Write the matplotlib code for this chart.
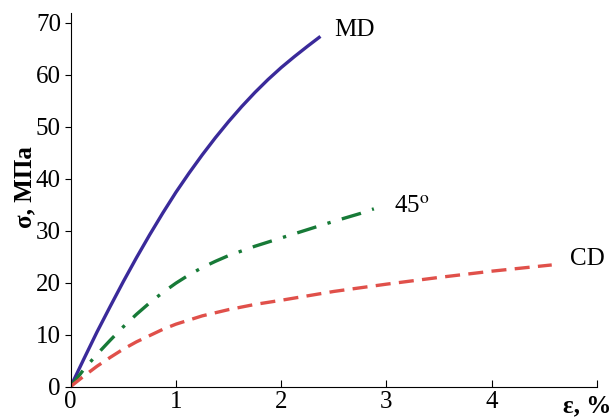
import matplotlib.pyplot as plt

# strain, %  /  stress, MPa
md_eps = [0, 0.125, 0.25, 0.375, 0.5, 0.625, 0.75, 0.875, 1.0, 1.125, 1.25,
          1.375, 1.5, 1.625, 1.75, 1.875, 2.0, 2.125, 2.25, 2.36]
md_sig = [0, 5.3, 10.5, 15.4, 20.2, 24.8, 29.2, 33.4, 37.4, 41.1, 44.6,
          47.9, 51.0, 53.9, 56.6, 59.1, 61.4, 63.5, 65.5, 67.2]

d45_eps = [0, 0.125, 0.25, 0.375, 0.5, 0.625, 0.75, 0.875, 1.0, 1.125, 1.25,
           1.375, 1.5, 1.75, 2.0, 2.25, 2.5, 2.75, 2.88]
d45_sig = [0, 3.3, 6.2, 8.9, 11.5, 13.9, 16.1, 18.1, 19.9, 21.5, 22.9,
           24.1, 25.2, 27.0, 28.6, 30.2, 31.8, 33.3, 34.2]

cd_eps = [0, 0.125, 0.25, 0.375, 0.5, 0.625, 0.75, 0.875, 1.0, 1.25, 1.5,
          1.75, 2.0, 2.5, 3.0, 3.5, 4.0, 4.57]
cd_sig = [0, 2.0, 3.9, 5.6, 7.2, 8.6, 9.8, 11.0, 12.0, 13.6, 14.8,
          15.8, 16.6, 18.3, 19.7, 21.0, 22.2, 23.4]

x_ticks = [0, 1, 2, 3, 4, 5]
x_labels = ['0', '1', '2', '3', '4', '']
y_ticks = [0, 10, 20, 30, 40, 50, 60, 70]

plt.rcParams['font.family'] = ['Liberation Serif', 'DejaVu Serif']
plt.rcParams['mathtext.fontset'] = 'stix'

fig = plt.figure(figsize=(6.12, 4.19), dpi=100)
ax = fig.add_axes([70.7 / 612, 1 - 386.5 / 419, (597 - 70.7) / 612, (386.5 - 13) / 419])

ax.plot(md_eps, md_sig, color='#3a2a9a', linewidth=2.4)
ax.plot(d45_eps, d45_sig, color='#177a37', linewidth=2.4,
        dashes=(6, 3.5, 1, 3.5))
ax.plot(cd_eps, cd_sig, color='#e0504a', linewidth=2.4, dashes=(4.5, 2.5))

ax.text(2.5, 68.6, 'MD', fontsize=18, ha='left', va='center')
ax.text(3.07, 34.6, '45$^{\\mathrm{o}}$', fontsize=18, ha='left', va='center')
ax.text(4.74, 24.6, 'CD', fontsize=18, ha='left', va='center')

ax.set_xlim(0, 4.98)
ax.set_ylim(0, 71.9)
ax.set_xticks(x_ticks)
ax.set_xticklabels(x_labels)
ax.set_yticks(y_ticks)
ax.tick_params(axis='x', direction='in', length=5, labelsize=18, pad=3)
ax.tick_params(axis='y', direction='out', length=4, labelsize=18, pad=3)

for side in ['top', 'right']:
    ax.spines[side].set_visible(False)

ax.set_ylabel('σ, МПа', fontsize=18, fontweight='bold', va='center')
ax.yaxis.set_label_coords(-0.087, 0.534)
fig.text(0.999, 0.005, 'ε, %', fontsize=18, fontweight='bold', ha='right', va='bottom')

fig.savefig('out.png', dpi=100)
